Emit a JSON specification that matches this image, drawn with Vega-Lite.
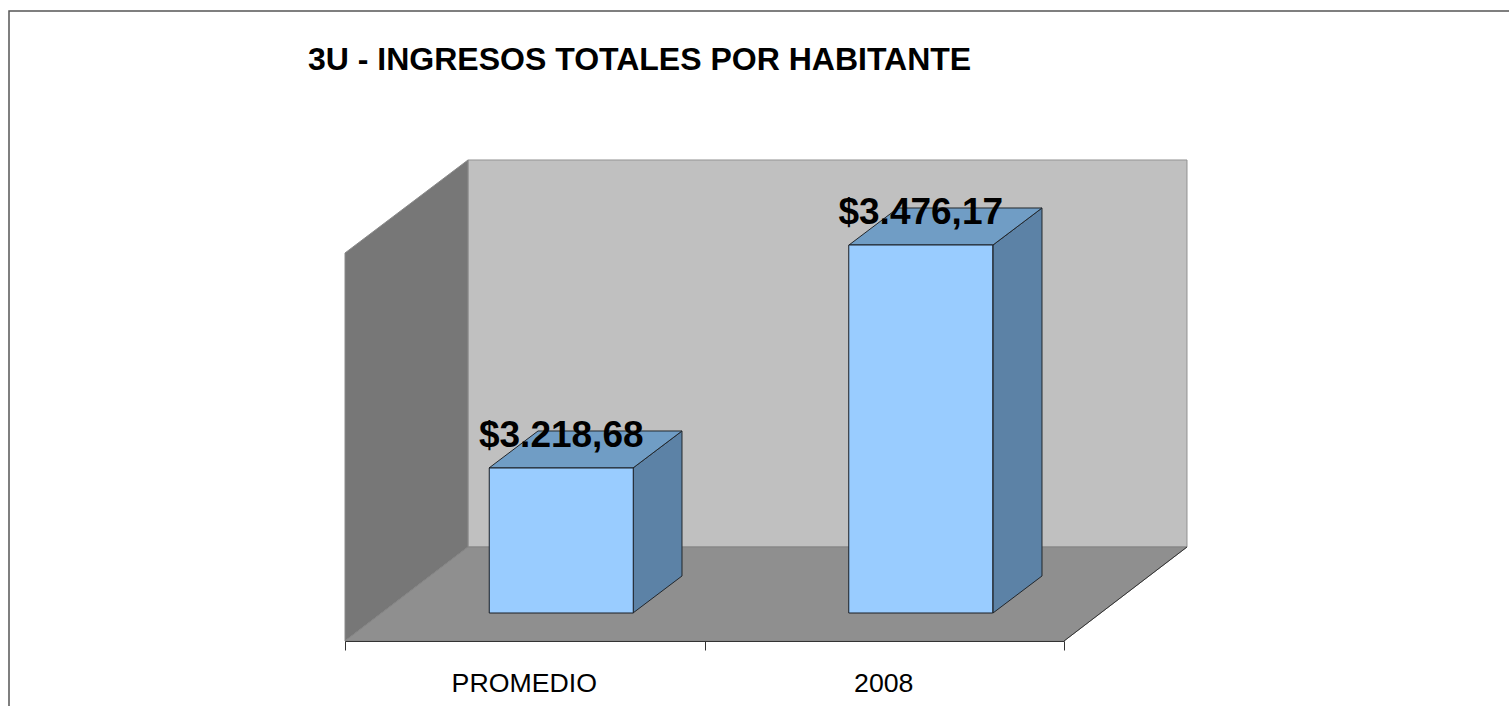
{
  "$schema": "https://vega.github.io/schema/vega-lite/v6.json",
  "autosize": "none",
  "width": 1509,
  "height": 562,
  "padding": {"left": 0, "right": 0, "top": 79, "bottom": 65},
  "background": "white",
  "config": {"view": {"stroke": null}, "font": "Liberation Sans"},
  "title": {
    "text": "3U - INGRESOS TOTALES POR HABITANTE",
    "font": "Liberation Sans",
    "fontSize": 32,
    "fontWeight": "bold",
    "color": "#000000",
    "anchor": "start",
    "frame": "group",
    "dx": 308,
    "dy": 74,
    "offset": 7
  },
  "datasets": {
    "bars": [
      {"categoria": "PROMEDIO", "ingreso": 3218.68, "etiqueta": "$3.218,68"},
      {"categoria": "2008", "ingreso": 3476.17, "etiqueta": "$3.476,17"}
    ],
    "faces": [
      {"face": "pared fondo", "x": 0.34214, "y": 3574.32, "y2": 3127.46},
      {"face": "pared fondo", "x": 2.34214, "y": 3574.32, "y2": 3127.46},
      {"face": "pared lateral", "x": 0, "y": 3466.93, "y2": 3018.92},
      {"face": "pared lateral", "x": 0.34214, "y": 3574.32, "y2": 3127.46},
      {"face": "piso", "x": 0, "y": 3018.92, "y2": 3018.92},
      {"face": "piso", "x": 0.34214, "y": 3127.46, "y2": 3018.92},
      {"face": "piso", "x": 2, "y": 3127.46, "y2": 3018.92},
      {"face": "piso", "x": 2.34214, "y": 3127.46, "y2": 3127.46},
      {"face": "lado PROMEDIO", "x": 0.80111, "y": 3218.68, "y2": 3051.25},
      {"face": "lado PROMEDIO", "x": 0.93741, "y": 3261.4, "y2": 3093.98},
      {"face": "tapa PROMEDIO", "x": 0.40056, "y": 3218.68, "y2": 3218.68},
      {"face": "tapa PROMEDIO", "x": 0.53686, "y": 3261.4, "y2": 3218.68},
      {"face": "tapa PROMEDIO", "x": 0.80111, "y": 3261.4, "y2": 3218.68},
      {"face": "tapa PROMEDIO", "x": 0.93741, "y": 3261.4, "y2": 3261.4},
      {"face": "lado 2008", "x": 1.8025, "y": 3476.17, "y2": 3051.25},
      {"face": "lado 2008", "x": 1.9388, "y": 3518.89, "y2": 3093.98},
      {"face": "tapa 2008", "x": 1.40195, "y": 3476.17, "y2": 3476.17},
      {"face": "tapa 2008", "x": 1.53825, "y": 3518.89, "y2": 3476.17},
      {"face": "tapa 2008", "x": 1.8025, "y": 3518.89, "y2": 3476.17},
      {"face": "tapa 2008", "x": 1.9388, "y": 3518.89, "y2": 3518.89}
    ],
    "edge": [
      {"x": 2, "y": 3018.92},
      {"x": 2.34214, "y": 3127.46}
    ],
    "frame": [
      {"x": -0.93463, "x2": 3.2684, "y": 3746.36, "y2": 2927.7}
    ]
  },
  "layer": [
    {
      "data": {"name": "frame"},
      "mark": {"type": "rect", "fill": null, "stroke": "#555555", "strokeWidth": 1.5},
      "encoding": {
        "x": {"field": "x", "type": "quantitative", "axis": null, "scale": {"domain": [0, 2], "range": [345, 1064]}},
        "x2": {"field": "x2"},
        "y": {"field": "y", "type": "quantitative", "axis": null, "scale": {"domain": [3018.92, 3667.84], "nice": false, "zero": false}},
        "y2": {"field": "y2"}
      }
    },
    {
      "data": {"name": "faces"},
      "mark": {"type": "area", "strokeWidth": 1, "strokeJoin": "miter"},
      "encoding": {
        "x": {"field": "x", "type": "quantitative", "axis": null, "scale": {"domain": [0, 2], "range": [345, 1064]}},
        "y": {"field": "y", "type": "quantitative", "axis": null, "scale": {"domain": [3018.92, 3667.84], "nice": false, "zero": false}},
        "y2": {"field": "y2"},
        "color": {
          "field": "face",
          "type": "nominal",
          "legend": null,
          "scale": {
            "domain": ["pared fondo", "pared lateral", "piso", "lado PROMEDIO", "tapa PROMEDIO", "lado 2008", "tapa 2008"],
            "range": ["#C0C0C0", "#777777", "#8F8F8F", "#5C82A6", "#709DC5", "#5C82A6", "#709DC5"]
          }
        },
        "stroke": {
          "field": "face",
          "type": "nominal",
          "legend": null,
          "scale": {
            "domain": ["pared fondo", "pared lateral", "piso", "lado PROMEDIO", "tapa PROMEDIO", "lado 2008", "tapa 2008"],
            "range": ["#929292", "#8A8A8A", "#858585", "#22272C", "#22272C", "#22272C", "#22272C"]
          }
        }
      }
    },
    {
      "data": {"name": "edge"},
      "mark": {"type": "line", "color": "#333333", "strokeWidth": 1},
      "encoding": {
        "x": {"field": "x", "type": "quantitative", "axis": null, "scale": {"domain": [0, 2], "range": [345, 1064]}},
        "y": {"field": "y", "type": "quantitative", "axis": null, "scale": {"domain": [3018.92, 3667.84], "nice": false, "zero": false}}
      }
    },
    {
      "data": {"name": "bars"},
      "mark": {"type": "bar", "width": 144, "xOffset": 36.5, "fill": "#99CCFF", "stroke": "#1A1E24", "strokeWidth": 1},
      "encoding": {
        "x": {
          "field": "categoria",
          "type": "nominal",
          "sort": null,
          "title": null,
          "scale": {"range": [345, 1064], "paddingInner": 0, "paddingOuter": 0},
          "axis": {
            "labelAngle": 0,
            "labelFont": "Liberation Sans",
            "labelFontSize": 26.7,
            "labelColor": "#000000",
            "labelPadding": 20,
            "labelOffset": -1,
            "tickBand": "extent",
            "tickSize": 9,
            "tickColor": "#333333",
            "domainColor": "#333333",
            "zindex": 1
          }
        },
        "y": {"field": "ingreso", "type": "quantitative", "axis": null, "scale": {"domain": [3018.92, 3667.84], "nice": false, "zero": false}},
        "y2": {"datum": 3051.25}
      }
    },
    {
      "data": {"name": "bars"},
      "mark": {"type": "text", "font": "Liberation Sans", "fontSize": 37, "fontWeight": "bold", "color": "#000000", "baseline": "alphabetic", "align": "center", "dx": 36.5, "dy": -21},
      "encoding": {
        "x": {
          "field": "categoria",
          "type": "nominal",
          "sort": null,
          "axis": null,
          "scale": {"range": [345, 1064], "paddingInner": 0, "paddingOuter": 0}
        },
        "y": {"field": "ingreso", "type": "quantitative", "axis": null, "scale": {"domain": [3018.92, 3667.84], "nice": false, "zero": false}},
        "text": {"field": "etiqueta", "type": "nominal"}
      }
    }
  ],
  "resolve": {"scale": {"x": "independent", "color": "independent", "stroke": "independent"}, "axis": {"x": "independent"}}
}
